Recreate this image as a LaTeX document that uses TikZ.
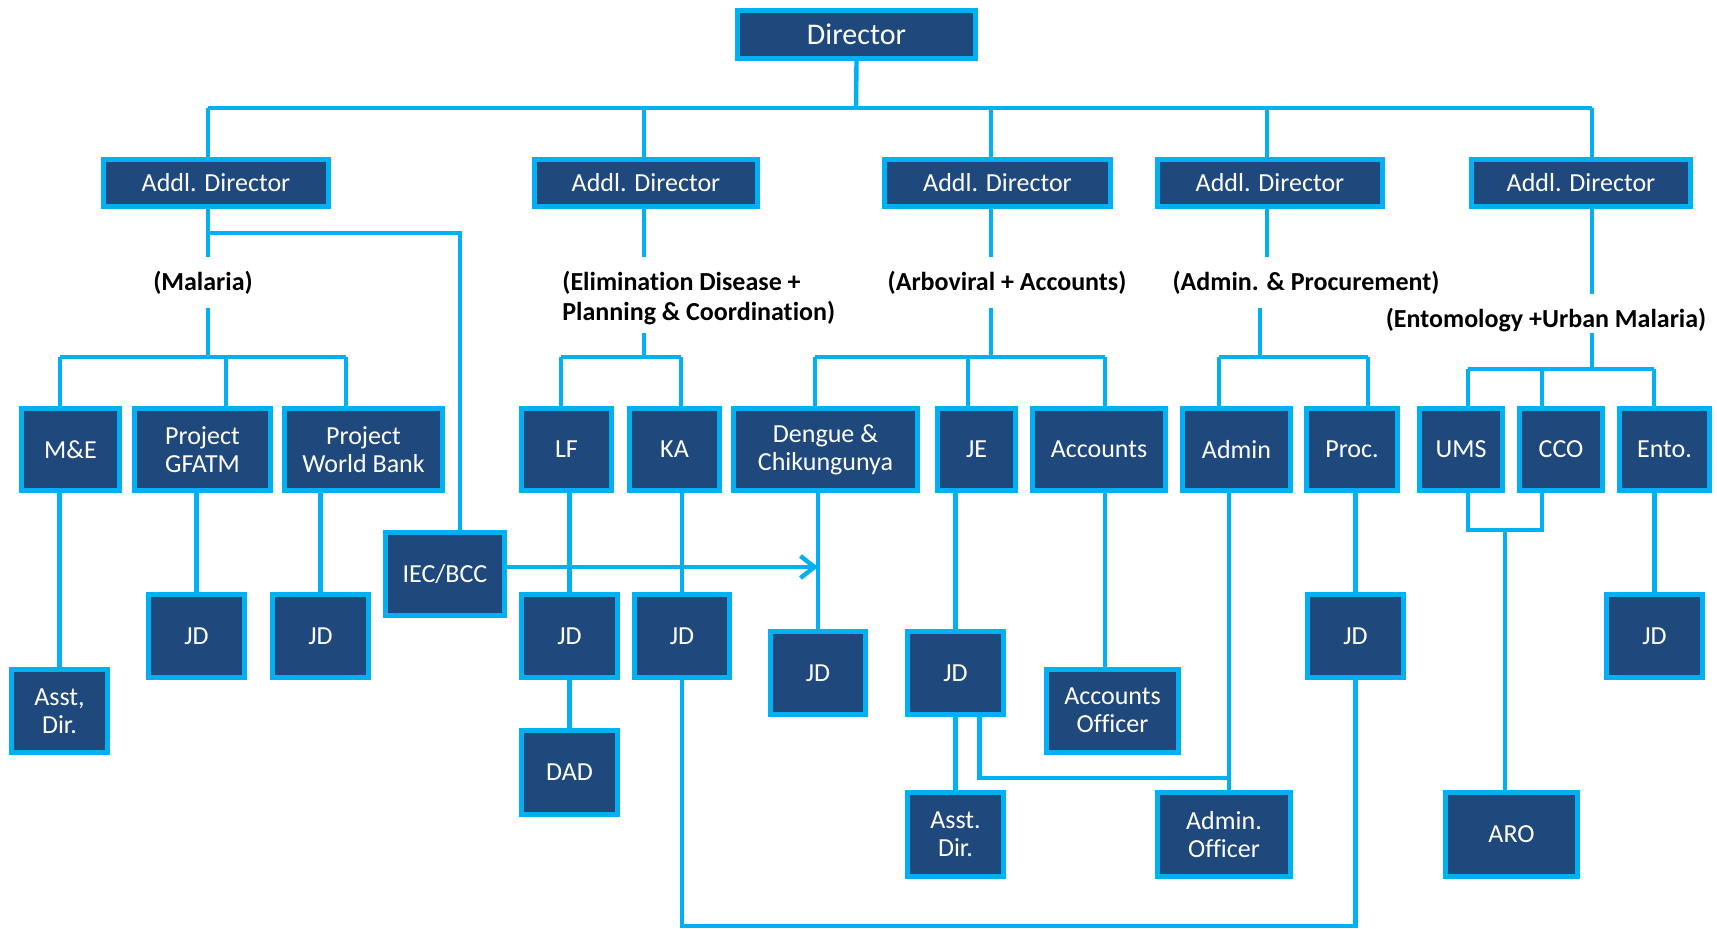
\documentclass[tikz,border=0pt]{standalone}
\usepackage{fontspec}
\setmainfont{Carlito}[Ligatures={NoCommon}]
\usetikzlibrary{arrows.meta}
\definecolor{boxblue}{HTML}{1F497D}
\definecolor{linecyan}{HTML}{00B0F0}
\begin{document}
\begin{tikzpicture}[x=0.5pt,y=-0.5pt,
  box/.style={draw=linecyan, line width=2.5pt, fill=boxblue, text=white,
    font=\fontsize{13}{14}\selectfont, align=center, inner sep=0pt},
  conn/.style={draw=linecyan, line width=2.2pt},
  lbl/.style={font=\fontsize{13}{15}\selectfont\bfseries, text=black, inner sep=0pt}]
\useasboundingbox (0,0) rectangle (1717,929);

% level 0
\node[box, minimum width=119pt, minimum height=24pt, font=\fontsize{15}{17}\selectfont] (dir) at (856.5,34.5) {Director};
% level 1
\node[box, minimum width=112.5pt, minimum height=23.5pt] (ad1) at (216,183) {Addl. Director};
\node[box, minimum width=111.5pt, minimum height=23.5pt] (ad2) at (646,183) {Addl. Director};
\node[box, minimum width=113pt, minimum height=23.5pt] (ad3) at (997.5,183) {Addl. Director};
\node[box, minimum width=112.5pt, minimum height=23.5pt] (ad4) at (1270,183) {Addl. Director};
\node[box, minimum width=109.5pt, minimum height=23.5pt] (ad5) at (1581,183) {Addl. Director};
% labels
\node[lbl, anchor=base] (lmal) at (203,291) {(Malaria)};
\node[lbl, anchor=base west, align=left] (lelim) at (562,321) {(Elimination Disease +\\Planning \& Coordination)};
\node[lbl, anchor=base] (larb) at (1007,291) {(Arboviral + Accounts)};
\node[lbl, anchor=base] (ladm) at (1306,291) {(Admin. \& Procurement)};
\node[lbl, anchor=base] (lent) at (1546,328) {(Entomology +Urban Malaria)};
% level 2
\node[box, minimum width=49pt, minimum height=41pt] (me) at (70.5,449.5) {M\&E};
\node[box, minimum width=68pt, minimum height=41pt] (gfatm) at (202.5,449.5) {Project\\GFATM};
\node[box, minimum width=79pt, minimum height=41pt] (wb) at (363.5,449.5) {Project\\World Bank};
\node[box, minimum width=45pt, minimum height=41pt] (lf) at (566.5,449.5) {LF};
\node[box, minimum width=45pt, minimum height=41pt] (ka) at (674.5,449.5) {KA};
\node[box, minimum width=92pt, minimum height=41pt] (dengue) at (825.5,449.5) {Dengue \&\\Chikungunya};
\node[box, minimum width=39pt, minimum height=41pt] (je) at (976.5,449.5) {JE};
\node[box, minimum width=66.5pt, minimum height=41pt] (acc) at (1099,449.5) {Accounts};
\node[box, minimum width=54pt, minimum height=41pt] (admin) at (1236.5,449.5) {Admin};
\node[box, minimum width=45.5pt, minimum height=41pt] (proc) at (1352,449.5) {Proc.};
\node[box, minimum width=41.5pt, minimum height=41pt] (ums) at (1461,449.5) {UMS};
\node[box, minimum width=41.5pt, minimum height=41pt] (cco) at (1561,449.5) {CCO};
\node[box, minimum width=45pt, minimum height=41pt] (ento) at (1664.5,449.5) {Ento.};
% level 3
\node[box, minimum width=48pt, minimum height=41.5pt] (asst1) at (59.5,711) {Asst,\\Dir.};
\node[box, minimum width=48pt, minimum height=41.5pt] (jd1) at (196.5,636) {JD};
\node[box, minimum width=48pt, minimum height=41.5pt] (jd2) at (320.5,636) {JD};
\node[box, minimum width=59.5pt, minimum height=41.5pt] (iec) at (445,574) {IEC/BCC};
\node[box, minimum width=48pt, minimum height=41.5pt] (jd3) at (569.5,636) {JD};
\node[box, minimum width=48pt, minimum height=42pt] (dad) at (569.5,772.5) {DAD};
\node[box, minimum width=47.5pt, minimum height=41.5pt] (jd4) at (682,636) {JD};
\node[box, minimum width=47.5pt, minimum height=41.5pt] (jd5) at (818,673) {JD};
\node[box, minimum width=48pt, minimum height=41.5pt] (jd6) at (955.5,673) {JD};
\node[box, minimum width=48pt, minimum height=42pt] (asst2) at (955.5,834.5) {Asst.\\Dir.};
\node[box, minimum width=66pt, minimum height=41.5pt] (accoff) at (1112.5,710.5) {Accounts\\Officer};
\node[box, minimum width=66.5pt, minimum height=42pt] (admoff) at (1224,834.5) {Admin.\\Officer};
\node[box, minimum width=48pt, minimum height=41.5pt] (jd7) at (1355.5,636) {JD};
\node[box, minimum width=66pt, minimum height=42pt] (aro) at (1511.5,834.5) {ARO};
\node[box, minimum width=48pt, minimum height=41.5pt] (jd8) at (1654.5,636) {JD};

% ---- connectors ----
% top bus
\coordinate (t0) at (856,108);
\coordinate (tL) at (208,108);
\coordinate (tR) at (1592,108);
\coordinate (t2) at (644,108);
\coordinate (t3) at (991,108);
\coordinate (t4) at (1267,108);
\draw[conn] (dir.south) -- (t0);
\draw[conn] (tL) -- (tR);
\draw[conn] (tL) -- (tL |- ad1.north);
\draw[conn] (t2) -- (t2 |- ad2.north);
\draw[conn] (t3) -- (t3 |- ad3.north);
\draw[conn] (t4) -- (t4 |- ad4.north);
\draw[conn] (tR) -- (tR |- ad5.north);

% AD1 (Malaria)
\coordinate (a1a) at (208,257);
\coordinate (a1b) at (208,308);
\coordinate (mL) at (60,357);
\coordinate (mG) at (226,357);
\coordinate (mR) at (346,357);
\coordinate (i1) at (208,233);
\coordinate (i2) at (460,233);
\draw[conn] (a1a |- ad1.south) -- (a1a);
\draw[conn] (a1b) -- (a1b |- mL);
\draw[conn] (mL) -- (mR);
\draw[conn] (mL) -- (mL |- me.north);
\draw[conn] (mG) -- (mG |- gfatm.north);
\draw[conn] (mR) -- (mR |- wb.north);
\draw[conn] (i1) -- (i2) -- (i2 |- iec.north);

% AD2
\coordinate (a2a) at (644,257);
\coordinate (a2b) at (644,333);
\coordinate (eL) at (561,357);
\coordinate (eR) at (681,357);
\draw[conn] (a2a |- ad2.south) -- (a2a);
\draw[conn] (a2b) -- (a2b |- eL);
\draw[conn] (eL) -- (eR);
\draw[conn] (eL) -- (eL |- lf.north);
\draw[conn] (eR) -- (eR |- ka.north);

% AD3
\coordinate (a3a) at (991,257);
\coordinate (a3b) at (991,308);
\coordinate (rL) at (815,357);
\coordinate (rM) at (968,357);
\coordinate (rR) at (1105,357);
\draw[conn] (a3a |- ad3.south) -- (a3a);
\draw[conn] (a3b) -- (a3b |- rL);
\draw[conn] (rL) -- (rR);
\draw[conn] (rL) -- (rL |- dengue.north);
\draw[conn] (rM) -- (rM |- je.north);
\draw[conn] (rR) -- (rR |- acc.north);

% AD4
\coordinate (a4a) at (1267,257);
\coordinate (a4b) at (1260,308);
\coordinate (pL) at (1219,357);
\coordinate (pR) at (1368,357);
\draw[conn] (a4a |- ad4.south) -- (a4a);
\draw[conn] (a4b) -- (a4b |- pL);
\draw[conn] (pL) -- (pR);
\draw[conn] (pL) -- (pL |- admin.north);
\draw[conn] (pR) -- (pR |- proc.north);

% AD5
\coordinate (a5a) at (1592,294);
\coordinate (a5b) at (1592,333);
\coordinate (uL) at (1468,369);
\coordinate (uM) at (1542,369);
\coordinate (uR) at (1654,369);
\draw[conn] (a5a |- ad5.south) -- (a5a);
\draw[conn] (a5b) -- (a5b |- uL);
\draw[conn] (uL) -- (uR);
\draw[conn] (uL) -- (uL |- ums.north);
\draw[conn] (uM) -- (uM |- cco.north);
\draw[conn] (uR) -- (uR |- ento.north);

% level 2 -> level 3
\draw[conn] (asst1.north |- me.south) -- (asst1.north);
\draw[conn] (jd1.north |- gfatm.south) -- (jd1.north);
\draw[conn] (jd2.north |- wb.south) -- (jd2.north);
\draw[conn] (jd3.north |- lf.south) -- (jd3.north);
\draw[conn] (jd3.south) -- (dad.north);
\draw[conn] (jd4.north |- ka.south) -- (jd4.north);
\draw[conn] (jd5.north |- dengue.south) -- (jd5.north);
\draw[conn] (jd6.north |- je.south) -- (jd6.north);
\draw[conn] (jd6.south) -- (asst2.north);
\coordinate (acx) at (1105,600);
\draw[conn] (acx |- acc.south) -- (acx |- accoff.north);
\coordinate (adml) at (1229,778);
\draw[conn] (adml |- admin.south) -- (adml |- admoff.north);
\draw[conn] ([xshift=12pt]jd6.south) |- (adml);
\draw[conn] (jd7.north |- proc.south) -- (jd7.north);
\coordinate (low) at (700,926);
\draw[conn] (jd4.south) -- (jd4.south |- low) -| (jd7.south);
\coordinate (v1) at (1468,530);
\coordinate (v2) at (1542,530);
\coordinate (v3) at (1505,530);
\draw[conn] (v1 |- ums.south) -- (v1) -- (v2) -- (v2 |- cco.south);
\draw[conn] (v3) -- (v3 |- aro.north);
\draw[conn] (jd8.north |- ento.south) -- (jd8.north);
% IEC arrow
\draw[conn, -{Straight Barb[length=7pt,width=11pt]}] ([yshift=3.5pt]iec.east) -- ([yshift=3.5pt]iec.east -| jd5.north);
\end{tikzpicture}
\end{document}
